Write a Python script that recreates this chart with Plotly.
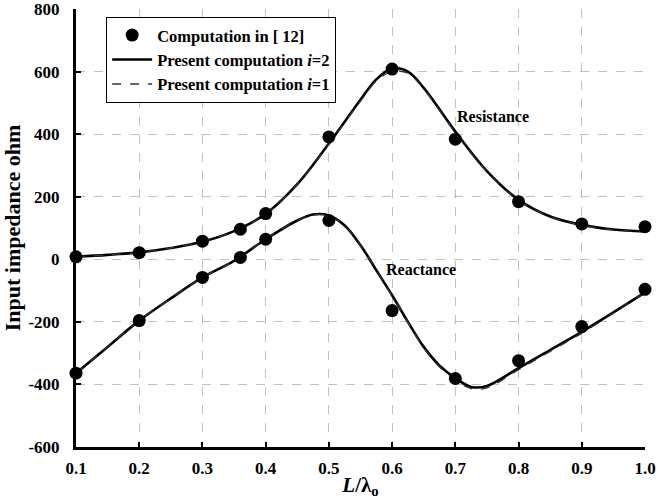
import plotly.graph_objects as go

# Reference computation (dots)
x_ref = [0.1, 0.2, 0.3, 0.36, 0.4, 0.5, 0.6, 0.7, 0.8, 0.9, 1.0]
res_ref = [8, 21, 58, 96, 146, 391, 608, 384, 184, 113, 104]
reac_ref = [-364, -196, -58, 6, 64, 124, -164, -381, -324, -215, -96]

# Present computation curves
x_res = [0.1, 0.15, 0.2, 0.25, 0.3, 0.35, 0.4, 0.45, 0.5, 0.55, 0.575, 0.6, 0.625,
         0.65, 0.7, 0.75, 0.8, 0.85, 0.9, 0.95, 1.0]
res_i2 = [8, 14, 22, 36, 56, 90, 145, 240, 370, 510, 575, 610, 600,
          548, 408, 282, 190, 137, 110, 95, 89]
res_i1 = [8, 14, 22, 36, 56, 90, 145, 240, 368, 506, 570, 600, 595,
          545, 405, 280, 189, 136, 109, 94, 88]

x_reac = [0.1, 0.15, 0.2, 0.25, 0.3, 0.35, 0.4, 0.45, 0.475, 0.5, 0.525, 0.55, 0.575,
          0.6, 0.625, 0.65, 0.675, 0.7, 0.725, 0.75, 0.8, 0.85, 0.9, 0.95, 1.0]
reac_i2 = [-364, -280, -196, -125, -58, -5, 64, 124, 143, 140, 108, 45, -35,
           -115, -200, -280, -340, -380, -408, -405, -348, -290, -232, -170, -106]
reac_i1 = [-364, -280, -196, -125, -58, -5, 64, 124, 142, 139, 107, 44, -36,
           -116, -202, -283, -344, -385, -413, -411, -353, -294, -236, -172, -104]

x_ticks = [0.1, 0.2, 0.3, 0.4, 0.5, 0.6, 0.7, 0.8, 0.9, 1.0]
x_ticklabels = ["0.1", "0.2", "0.3", "0.4", "0.5", "0.6", "0.7", "0.8", "0.9", "1.0"]
y_ticks = [-600, -400, -200, 0, 200, 400, 600, 800]
y_ticklabels = ["-600", "-400", "-200", "0", "200", "400", "600", "800"]

font_family = "Liberation Serif"

fig = go.Figure()

fig.add_trace(go.Scatter(x=x_res, y=res_i2, mode="lines", line=dict(color="black", width=2.6, shape="spline"),
                         name="Present computation <i>i</i>=2", legendrank=2, cliponaxis=False))
fig.add_trace(go.Scatter(x=x_reac, y=reac_i2, mode="lines", line=dict(color="black", width=2.6, shape="spline"),
                         showlegend=False, cliponaxis=False))
fig.add_trace(go.Scatter(x=x_res, y=res_i1, mode="lines", line=dict(color="#333333", width=1.4, dash="dash", shape="spline"),
                         name="Present computation <i>i</i>=1", legendrank=3, cliponaxis=False))
fig.add_trace(go.Scatter(x=x_reac, y=reac_i1, mode="lines", line=dict(color="#333333", width=1.4, dash="dash", shape="spline"),
                         showlegend=False, cliponaxis=False))
fig.add_trace(go.Scatter(x=x_ref, y=res_ref, mode="markers", marker=dict(color="black", size=13),
                         name="Computation in [ 12]", legendrank=1, cliponaxis=False))
fig.add_trace(go.Scatter(x=x_ref, y=reac_ref, mode="markers", marker=dict(color="black", size=13),
                         showlegend=False, cliponaxis=False))

fig.add_annotation(x=0.76, y=458, text="<b>Resistance</b>", showarrow=False,
                   font=dict(family=font_family, size=16, color="black"))
fig.add_annotation(x=0.646, y=-33, text="<b>Reactance</b>", showarrow=False,
                   font=dict(family=font_family, size=16, color="black"))

fig.update_layout(
    width=657, height=499,
    margin=dict(l=76, r=12, t=9, b=52),
    paper_bgcolor="white", plot_bgcolor="white",
    font=dict(family=font_family, size=17, color="black"),
    legend=dict(x=0.053, y=0.982, xanchor="left", yanchor="top",
                bordercolor="black", borderwidth=1, bgcolor="white",
                font=dict(family=font_family, size=16.5, color="black", weight="bold"),
                tracegroupgap=0, itemwidth=40),
    showlegend=True,
)

fig.update_xaxes(
    range=[0.1, 1.0], tickvals=x_ticks, ticktext=x_ticklabels,
    showline=True, linecolor="black", linewidth=3, ticks="inside", ticklen=5, tickwidth=2, tickcolor="black",
    showgrid=True, gridcolor="#c0c0c0", griddash="dash", gridwidth=1, zeroline=False,
    tickfont=dict(family=font_family, size=17, weight="bold"), ticklabelstandoff=4,
    automargin=False, ticklabeloverflow="allow",
    title=dict(text="<i>L</i>/λ<sub>o</sub>", font=dict(family=font_family, size=21, weight="bold"), standoff=2),
)
fig.update_yaxes(
    range=[-600, 800], tickvals=y_ticks, ticktext=y_ticklabels,
    showline=True, linecolor="black", linewidth=3, ticks="inside", ticklen=5, tickwidth=2, tickcolor="black",
    showgrid=True, gridcolor="#c0c0c0", griddash="dash", gridwidth=1, zeroline=False,
    tickfont=dict(family=font_family, size=17, weight="bold"), ticklabelstandoff=10,
    automargin=False, ticklabeloverflow="allow",
    title=dict(text="Input impedance ohm", font=dict(family=font_family, size=22, weight="bold"), standoff=6),
)

fig.write_html("out.html", config={"displayModeBar": False},
               post_script="document.body.style.margin='0';document.body.style.padding='0';")
